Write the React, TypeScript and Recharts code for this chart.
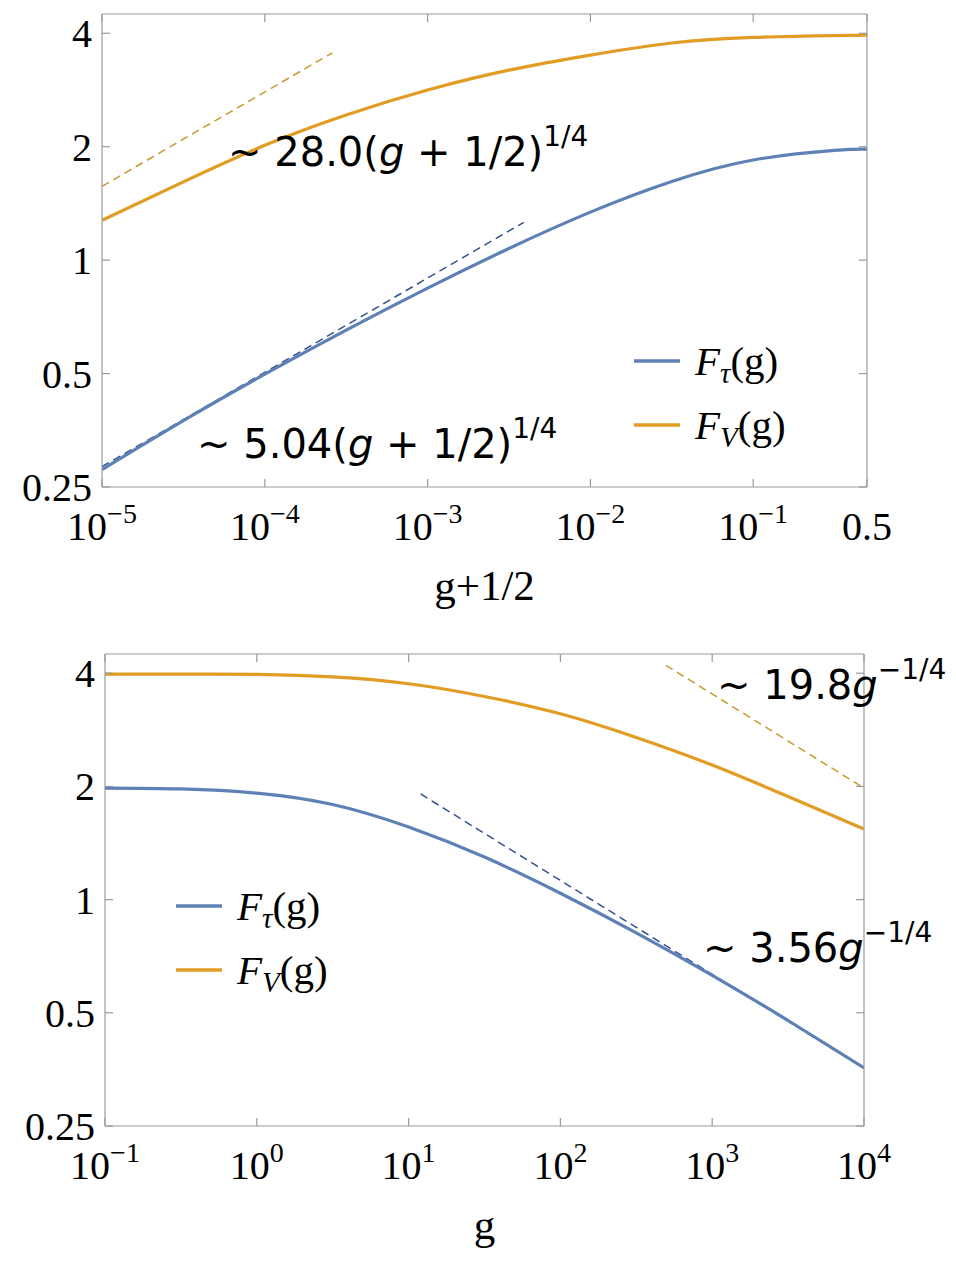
import { LineChart, Line, XAxis, YAxis } from "recharts";

// upper panel: x = g + 1/2
const topX = [1e-5, 3.16e-5, 1e-4, 3.16e-4, 1e-3, 3.16e-3, 1e-2, 3.16e-2, 1e-1, 3.16e-1, 0.5];
const topTau = [0.278, 0.375, 0.498, 0.652, 0.843, 1.074, 1.341, 1.617, 1.844, 1.956, 1.971];
const topV = [1.276, 1.613, 2.017, 2.428, 2.828, 3.193, 3.5, 3.77, 3.9, 3.945, 3.953];
const topTauAsymX = [1e-5, 3.9e-3];
const topTauAsymY = [0.283, 1.26];
const topVAsymX = [1e-5, 2.6e-4];
const topVAsymY = [1.57, 3.55];
const topXTicks = [1e-5, 1e-4, 1e-3, 1e-2, 1e-1, 0.5];

// lower panel: x = g
const bottomX = [0.1, 0.316, 1, 3.16, 10, 31.6, 100, 316, 1000, 3160, 10000];
const bottomTau = [1.98, 1.97, 1.92, 1.79, 1.56, 1.298, 1.04, 0.816, 0.629, 0.477, 0.357];
const bottomV = [3.98, 3.98, 3.97, 3.91, 3.75, 3.47, 3.12, 2.7, 2.28, 1.88, 1.54];
const bottomTauAsymX = [12, 10000];
const bottomTauAsymY = [1.91, 0.356];
const bottomVAsymX = [495, 10000];
const bottomVAsymY = [4.2, 1.98];
const bottomXTicks = [0.1, 1, 10, 100, 1000, 10000];

const yTicks = [0.25, 0.5, 1, 2, 4];

const FRAME = "#9a9a9a";
const BLUE = "#5e81b5";
const ORANGE = "#e19c24";
const BLUE_D = "#34508f";
const ORANGE_D = "#c99a2e";
const SERIF = "'Liberation Serif', 'Times New Roman', serif";
const SANS = "'DejaVu Sans', 'Noto Sans', sans-serif";
const TICK_LEN = 8;

const pts = (xs: number[], ys: number[]) => xs.map((x, i) => ({ x, y: ys[i] }));

const XLabel = ({ v, x, y }: { v: number; x: number; y: number }) => {
  const e = Math.log10(v);
  const isPow = Math.abs(e - Math.round(e)) < 1e-9;
  const n = Math.round(e);
  return (
    <text x={x} y={y} textAnchor="middle" fontFamily={SERIF} fontSize={40} fill="#000">
      {isPow ? (
        <>
          <tspan>10</tspan>
          <tspan dy={-17} fontSize={28}>
            {n < 0 ? "\u2212" + Math.abs(n) : String(n)}
          </tspan>
        </>
      ) : (
        String(v)
      )}
    </text>
  );
};

const BottomTick = (props: any) => {
  const { x, y, payload } = props;
  return (
    <g>
      <line x1={x} y1={y} x2={x} y2={y - TICK_LEN} stroke={FRAME} strokeWidth={1.2} />
      <XLabel v={payload.value} x={x} y={y + 53} />
    </g>
  );
};

const TopTick = (props: any) => {
  const { x, y } = props;
  return <line x1={x} y1={y} x2={x} y2={y + TICK_LEN} stroke={FRAME} strokeWidth={1.2} />;
};

const LeftTick = (props: any) => {
  const { x, y, payload } = props;
  return (
    <g>
      <line x1={x} y1={y} x2={x + TICK_LEN} y2={y} stroke={FRAME} strokeWidth={1.2} />
      <text x={x - 10} y={y + 14} textAnchor="end" fontFamily={SERIF} fontSize={40} fill="#000">
        {String(payload.value)}
      </text>
    </g>
  );
};

const RightTick = (props: any) => {
  const { x, y } = props;
  return <line x1={x} y1={y} x2={x - TICK_LEN} y2={y} stroke={FRAME} strokeWidth={1.2} />;
};

type PanelProps = {
  top: number;
  margin: { top: number; right: number; bottom: number; left: number };
  xDomain: [number, number];
  xTicks: number[];
  xs: number[];
  tau: number[];
  v: number[];
  tauAsym: { x: number; y: number }[];
  vAsym: { x: number; y: number }[];
  title: string;
};

const Panel = (p: PanelProps) => {
  const tauRows = pts(p.xs, p.tau);
  const vRows = pts(p.xs, p.v);
  return (
    <div style={{ position: "absolute", left: 0, top: p.top }}>
      <LineChart width={956} height={620} margin={p.margin}>
        <XAxis
          xAxisId="b"
          dataKey="x"
          type="number"
          scale="log"
          domain={p.xDomain}
          allowDataOverflow
          ticks={p.xTicks}
          interval={0}
          height={30}
          tickSize={0}
          tickMargin={0}
          tickLine={false}
          stroke={FRAME}
          strokeWidth={1.2}
          tick={<BottomTick />}
          label={{
            content: (lp: any) => {
              const vb = lp.viewBox;
              return (
                <text
                  x={vb.x + vb.width / 2}
                  y={vb.y + 113}
                  textAnchor="middle"
                  fontFamily={SERIF}
                  fontSize={43}
                  fill="#000"
                >
                  {p.title}
                </text>
              );
            },
          }}
        />
        <XAxis
          xAxisId="t"
          orientation="top"
          dataKey="x"
          type="number"
          scale="log"
          domain={p.xDomain}
          allowDataOverflow
          ticks={p.xTicks}
          interval={0}
          height={10}
          tickSize={0}
          tickMargin={0}
          tickLine={false}
          stroke={FRAME}
          strokeWidth={1.2}
          tick={<TopTick />}
        />
        <YAxis
          yAxisId="l"
          type="number"
          scale="log"
          domain={[0.25, 4.5]}
          allowDataOverflow
          ticks={yTicks}
          interval={0}
          width={40}
          tickSize={0}
          tickMargin={0}
          tickLine={false}
          stroke={FRAME}
          strokeWidth={1.2}
          tick={<LeftTick />}
        />
        <YAxis
          yAxisId="r"
          orientation="right"
          type="number"
          scale="log"
          domain={[0.25, 4.5]}
          allowDataOverflow
          ticks={yTicks}
          interval={0}
          width={10}
          tickSize={0}
          tickMargin={0}
          tickLine={false}
          stroke={FRAME}
          strokeWidth={1.2}
          tick={<RightTick />}
        />
        <Line
          xAxisId="b"
          yAxisId="l"
          data={p.tauAsym}
          dataKey="y"
          stroke={BLUE_D}
          strokeWidth={1.5}
          strokeDasharray="8 5"
          dot={false}
          isAnimationActive={false}
        />
        <Line
          xAxisId="b"
          yAxisId="l"
          data={p.vAsym}
          dataKey="y"
          stroke={ORANGE_D}
          strokeWidth={1.5}
          strokeDasharray="8 5"
          dot={false}
          isAnimationActive={false}
        />
        <Line
          xAxisId="b"
          yAxisId="l"
          data={tauRows}
          dataKey="y"
          type="natural"
          stroke={BLUE}
          strokeWidth={3.2}
          dot={false}
          isAnimationActive={false}
        />
        <Line
          xAxisId="b"
          yAxisId="l"
          data={vRows}
          dataKey="y"
          type="natural"
          stroke={ORANGE}
          strokeWidth={3.2}
          dot={false}
          isAnimationActive={false}
        />
      </LineChart>
    </div>
  );
};

const LegendItem = ({ x, y, color, sub }: { x: number; y: number; color: string; sub: string }) => (
  <g>
    <line x1={x} y1={y} x2={x + 46} y2={y} stroke={color} strokeWidth={3.5} />
    <text x={x + 61} y={y + 14} fontFamily={SERIF} fontSize={41} fill="#000">
      <tspan fontStyle="italic">F</tspan>
      <tspan fontStyle="italic" fontSize={29} dy={8}>
        {sub}
      </tspan>
      <tspan dy={-8}>(g)</tspan>
    </text>
  </g>
);

const Note = ({ x, y, coef, arg, exp }: { x: number; y: number; coef: string; arg: "shift" | "g"; exp: string }) => (
  <text x={x} y={y} fontFamily={SANS} fontSize={40} fill="#000">
    <tspan>{"~ " + coef}</tspan>
    {arg === "shift" ? (
      <>
        <tspan>(</tspan>
        <tspan fontStyle="italic">g</tspan>
        <tspan>{" + 1/2)"}</tspan>
      </>
    ) : (
      <tspan fontStyle="italic">g</tspan>
    )}
    <tspan dy={-20} fontSize={28}>
      {exp}
    </tspan>
  </text>
);

export default function App() {
  return (
    <div style={{ position: "absolute", left: 0, top: 0, width: 956, height: 1270, background: "#fff" }}>
      <Panel
        top={0}
        margin={{ top: 4, right: 79, bottom: 103, left: 62 }}
        xDomain={[1e-5, 0.5]}
        xTicks={topXTicks}
        xs={topX}
        tau={topTau}
        v={topV}
        tauAsym={pts(topTauAsymX, topTauAsymY)}
        vAsym={pts(topVAsymX, topVAsymY)}
        title="g+1/2"
      />
      <Panel
        top={640}
        margin={{ top: 4, right: 82, bottom: 104, left: 65 }}
        xDomain={[0.1, 10000]}
        xTicks={bottomXTicks}
        xs={bottomX}
        tau={bottomTau}
        v={bottomV}
        tauAsym={pts(bottomTauAsymX, bottomTauAsymY)}
        vAsym={pts(bottomVAsymX, bottomVAsymY)}
        title="g"
      />
      <svg
        width={956}
        height={1270}
        style={{ position: "absolute", left: 0, top: 0, pointerEvents: "none" }}
      >
        <Note x={228} y={166} coef="28.0" arg="shift" exp="1/4" />
        <Note x={197} y={458} coef="5.04" arg="shift" exp="1/4" />
        <Note x={717} y={699} coef="19.8" arg="g" exp={"\u22121/4"} />
        <Note x={703} y={962} coef="3.56" arg="g" exp={"\u22121/4"} />
        <LegendItem x={634} y={361} color={BLUE} sub={"\u03c4"} />
        <LegendItem x={634} y={425} color={ORANGE} sub="V" />
        <LegendItem x={176} y={906} color={BLUE} sub={"\u03c4"} />
        <LegendItem x={176} y={970} color={ORANGE} sub="V" />
      </svg>
    </div>
  );
}
